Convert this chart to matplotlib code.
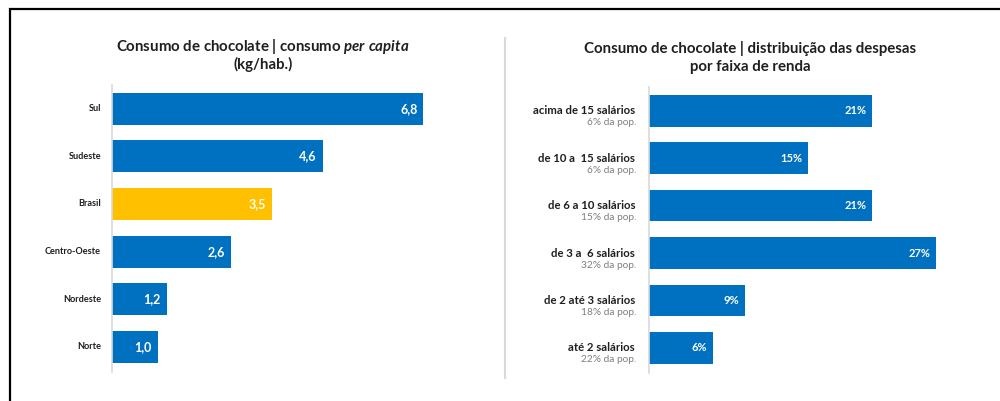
import matplotlib
matplotlib.use("Agg")
import matplotlib.pyplot as plt
import matplotlib.transforms as mtransforms
from matplotlib.patches import Rectangle
from matplotlib.lines import Line2D

plt.rcParams['font.family'] = ['Lato', 'DejaVu Sans']
plt.rcParams['mathtext.fontset'] = 'custom'
plt.rcParams['mathtext.it'] = 'Lato:italic:bold'
plt.rcParams['mathtext.rm'] = 'Lato:bold'

# consumo per capita por região (kg/hab.)
regioes = ['Sul', 'Sudeste', 'Brasil', 'Centro-Oeste', 'Nordeste', 'Norte']
consumo = [6.8, 4.6, 3.5, 2.6, 1.2, 1.0]

# distribuição das despesas por faixa de renda (%)
faixas = ['acima de 15 salários', 'de 10 a  15 salários', 'de 6 a 10 salários',
          'de 3 a  6 salários', 'de 2 até 3 salários', 'até 2 salários']
pop = ['6% da pop.', '6% da pop.', '15% da pop.', '32% da pop.', '18% da pop.', '22% da pop.']
despesas = [21, 15, 21, 27, 9, 6]

AZUL = '#0070C0'
AMARELO = '#FFC000'
CINZA = '#D9D9D9'
TEXTO = '#1f1f1f'

W, H = 1000, 401
fig = plt.figure(figsize=(W / 100, H / 100), dpi=100)


def fx(x):
    return x / W


def fy(y):
    return 1 - y / H


def style_axis(ax):
    for s in ['top', 'right', 'bottom']:
        ax.spines[s].set_visible(False)
    ax.spines['left'].set_color(CINZA)
    ax.spines['left'].set_linewidth(1.2)
    ax.set_xticks([])
    ax.set_yticks([])


# painel esquerdo
ax1 = fig.add_axes([fx(112), fy(372), fx(388), (372 - 85) / H])
cores = [AMARELO if r == 'Brasil' else AZUL for r in regioes]
ax1.barh(range(len(regioes)), consumo, height=0.67, color=cores)
ax1.set_xlim(0, 388 / 45.8)
ax1.set_ylim(5.53, -0.5)
style_axis(ax1)
off = mtransforms.offset_copy(ax1.transData, fig=fig, x=-6, y=0, units='dots')
for i, (r, v) in enumerate(zip(regioes, consumo)):
    ax1.text(-11 / 388, i, r, transform=ax1.get_yaxis_transform(),
             ha='right', va='center', fontsize=6.6, fontweight='bold', color=TEXTO)
    ax1.text(v, i, f'{v:.1f}'.replace('.', ','), transform=off, ha='right', va='center',
             fontsize=9, fontweight='bold', color='white')

fig.text(fx(263), fy(46), r'Consumo de chocolate | consumo $per\ capita$',
         ha='center', va='center', fontsize=10.8, fontweight='bold', color=TEXTO)
fig.text(fx(263), fy(64), '(kg/hab.)', ha='center', va='center',
         fontsize=10.8, fontweight='bold', color=TEXTO)

# painel direito
ax2 = fig.add_axes([fx(649), fy(373), fx(340), (373 - 87) / H])
ax2.barh(range(len(faixas)), despesas, height=0.67, color=AZUL)
ax2.set_xlim(0, 340 / 10.63)
ax2.set_ylim(5.53, -0.5)
style_axis(ax2)
off2 = mtransforms.offset_copy(ax2.transData, fig=fig, x=-6, y=0, units='dots')
lab = mtransforms.offset_copy(ax2.get_yaxis_transform(), fig=fig, x=-14, y=0, units='dots')
sub = mtransforms.offset_copy(ax2.get_yaxis_transform(), fig=fig, x=-13, y=-12, units='dots')
for i, (f, p, v) in enumerate(zip(faixas, pop, despesas)):
    ax2.text(0, i, f, transform=lab, ha='right', va='center',
             fontsize=8.2, fontweight='bold', color=TEXTO)
    ax2.text(0, i, p, transform=sub, ha='right', va='center',
             fontsize=7.3, color='#7f7f7f')
    ax2.text(v, i, f'{v}%', transform=off2, ha='right', va='center',
             fontsize=8, fontweight='bold', color='white')

fig.text(fx(750), fy(48), 'Consumo de chocolate | distribuição das despesas',
         ha='center', va='center', fontsize=10.8, fontweight='bold', color=TEXTO)
fig.text(fx(750), fy(67), 'por faixa de renda', ha='center', va='center',
         fontsize=10.8, fontweight='bold', color=TEXTO)

# separador e moldura
fig.add_artist(Line2D([fx(505), fx(505)], [fy(38), fy(378)], color=CINZA, lw=1.5))
fig.add_artist(Rectangle((fx(9.5), -0.1), 1.2, fy(8.5) + 0.1, transform=fig.transFigure,
                         fill=False, edgecolor='black', lw=1.6))

fig.savefig('out.png', dpi=100)
